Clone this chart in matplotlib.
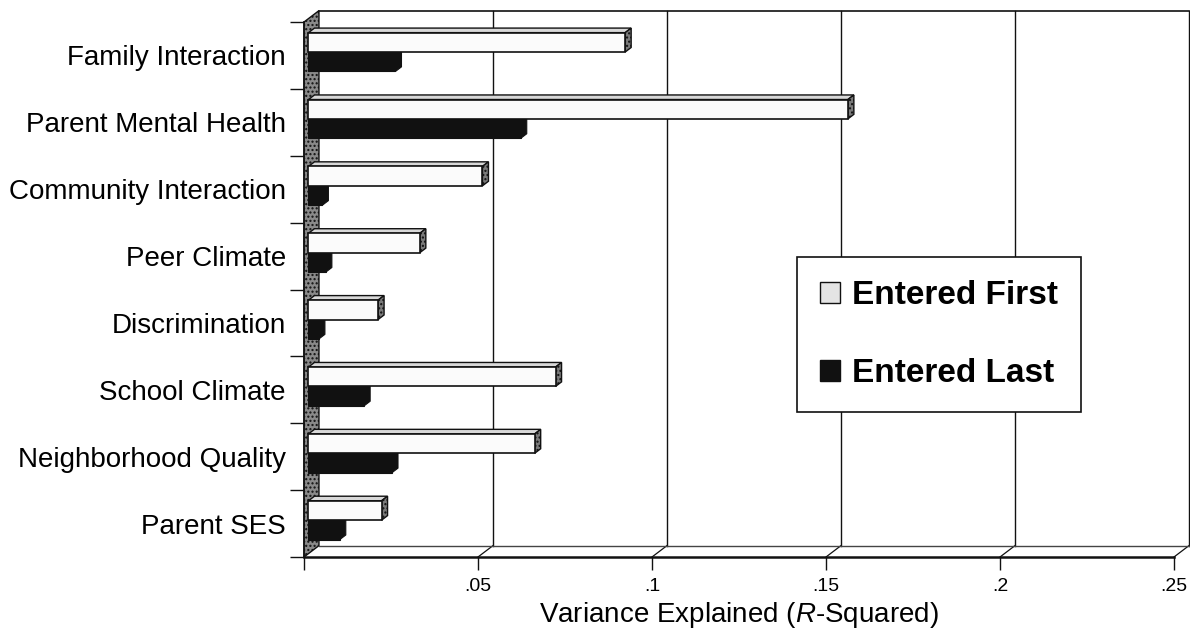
import matplotlib
matplotlib.use('Agg')
import matplotlib.pyplot as plt
from matplotlib.patches import Polygon, Patch
import numpy as np

plt.rcParams['font.family'] = 'Liberation Sans'
plt.rcParams['mathtext.fontset'] = 'custom'
plt.rcParams['mathtext.rm'] = 'Liberation Sans'
plt.rcParams['mathtext.it'] = 'Liberation Sans:italic'

# predictors, top to bottom
categories = ['Family Interaction', 'Parent Mental Health', 'Community Interaction',
              'Peer Climate', 'Discrimination', 'School Climate',
              'Neighborhood Quality', 'Parent SES']
entered_first = [0.091, 0.155, 0.050, 0.032, 0.020, 0.071, 0.065, 0.021]
entered_last = [0.025, 0.061, 0.004, 0.005, 0.003, 0.016, 0.024, 0.009]
xticks = [0, 0.05, 0.1, 0.15, 0.2, 0.25]
xticklabels = ['', '.05', '.1', '.15', '.2', '.25']

# depth of the pseudo-3D box in data units
DX, DY = 0.0043, 0.17
# bars sit a little way into the box and are 0.4 deep
BX, BY = 0.3 * DX, 0.3 * DY
BDX, BDY = 0.4 * DX, 0.4 * DY
BH = 0.29

n = len(categories)
fig = plt.figure(figsize=(11.9, 6.4), dpi=100)
ax = fig.add_axes([304 / 1190, 1 - 557 / 640, 870 / 1190, 535 / 640])
ax.set_xlim(0, 0.25)
ax.set_ylim(0, n)
for s in ax.spines.values():
    s.set_visible(False)

ink = '#111111'

# left wall
wall = Polygon([(0, 0), (DX, DY), (DX, n + DY), (0, n)], closed=True,
               facecolor='#8a8a8a', edgecolor=ink, lw=1.0, hatch='....',
               clip_on=False, zorder=1)
ax.add_patch(wall)

# back wall grid and frame
for x in xticks[1:]:
    ax.plot([x + DX, x + DX], [DY, n + DY], color=ink, lw=1.0, clip_on=False, zorder=1)
    ax.plot([x, x + DX], [0, DY], color=ink, lw=0.9, clip_on=False, zorder=1)
ax.plot([DX, 0.25 + DX], [n + DY, n + DY], color=ink, lw=1.2, clip_on=False, zorder=1)
ax.plot([DX, 0.25 + DX], [DY, DY], color='#444444', lw=1.0, clip_on=False, zorder=1)
ax.plot([0, 0.25], [0, 0], color=ink, lw=1.8, clip_on=False, zorder=3)
ax.plot([0, 0], [0, n], color=ink, lw=1.2, clip_on=False, zorder=3)

# bars
for i, (first, last) in enumerate(zip(entered_first, entered_last)):
    c = n - i - 0.5 + BY
    x0 = BX
    # entered last: black, only front and side show
    ax.barh(c - BH / 2, last, height=BH, left=x0, color=ink, edgecolor=ink,
            lw=0.8, zorder=4)
    xe = x0 + last
    ax.add_patch(Polygon([(xe, c - BH), (xe + BDX, c - BH + BDY), (xe + BDX, c + BDY), (xe, c)],
                         closed=True, facecolor=ink, edgecolor=ink, lw=0.8, zorder=4))
    # entered first: white box with shaded top and side
    xe = x0 + first
    ax.add_patch(Polygon([(x0, c + BH), (x0 + BDX, c + BH + BDY), (xe + BDX, c + BH + BDY), (xe, c + BH)],
                         closed=True, facecolor='#d8d8d8', edgecolor=ink, lw=1.0, zorder=5))
    ax.add_patch(Polygon([(xe, c), (xe + BDX, c + BDY), (xe + BDX, c + BH + BDY), (xe, c + BH)],
                         closed=True, facecolor='#7a7a7a', edgecolor=ink, lw=1.0,
                         hatch='....', zorder=5))
    ax.barh(c + BH / 2, first, height=BH, left=x0, color='#fbfbfb', edgecolor=ink,
            lw=1.2, zorder=6)

# ticks and labels
ax.set_xticks(xticks)
ax.set_xticklabels(xticklabels, fontsize=14)
ax.tick_params(axis='x', direction='out', length=9, width=1.0, color=ink, pad=6)
ax.set_yticks(np.arange(n + 1))
ax.set_yticklabels([])
ax.tick_params(axis='y', which='major', direction='out', length=10, width=1.0, color=ink)
ax.set_yticks(np.arange(n) + 0.5, minor=True)
ax.set_yticklabels(categories[::-1], minor=True, fontsize=20)
ax.tick_params(axis='y', which='minor', length=0, pad=13)
ax.set_xlabel('Variance Explained ($\\it{R}$-Squared)', fontsize=20, labelpad=4)

handles = [Patch(facecolor='#e4e4e4', edgecolor=ink, lw=1.0, label='Entered First'),
           Patch(facecolor=ink, edgecolor=ink, lw=1.0, label='Entered Last')]
leg = fig.legend(handles=handles, loc='upper left', bbox_to_anchor=(797 / 1190, 1 - 257 / 640),
                 borderaxespad=0, prop={'family': 'Liberation Sans', 'weight': 'bold', 'size': 24},
                 handlelength=0.6, handleheight=0.6, handletextpad=0.35,
                 labelspacing=1.4, borderpad=0.7, fancybox=False, shadow=False,
                 framealpha=1, edgecolor=ink)
leg.get_frame().set_linewidth(1.2)

fig.savefig('out.png', dpi=100)
